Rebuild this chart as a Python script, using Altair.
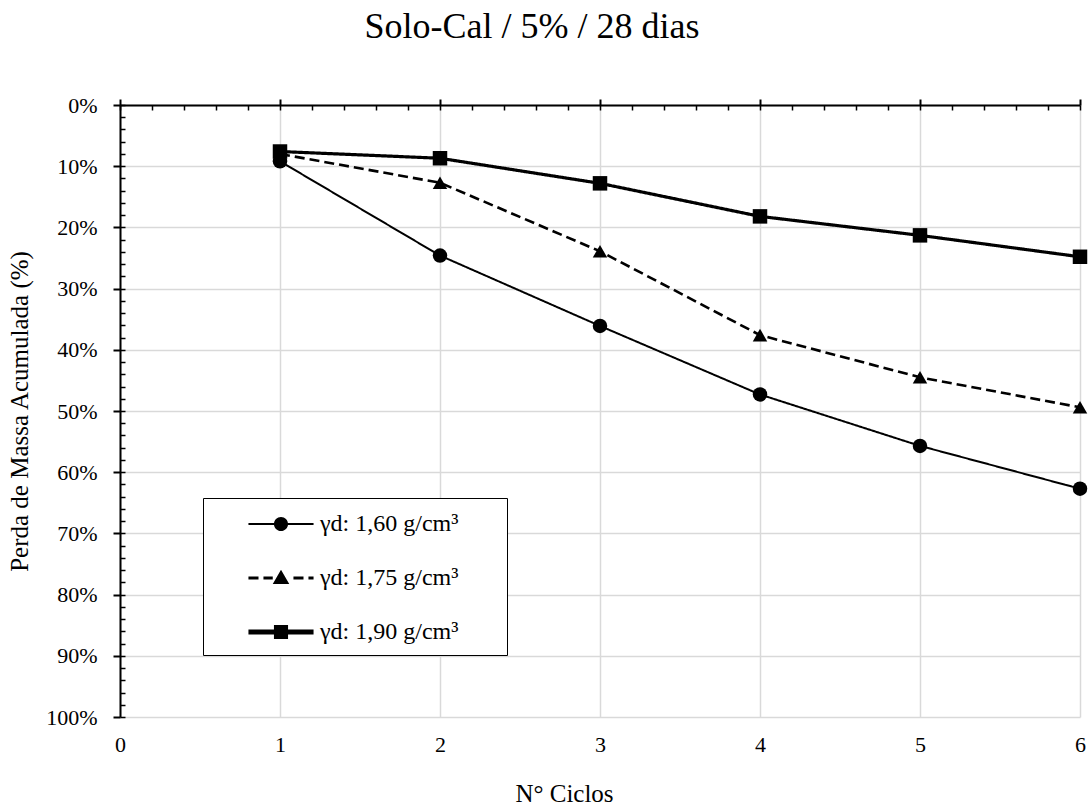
import altair as alt
import pandas as pd

# Ensaio de durabilidade: perda de massa acumulada por ciclo
ciclos = [1, 2, 3, 4, 5, 6]
serie_160 = [9.2, 24.6, 36.1, 47.3, 55.7, 62.7]
serie_175 = [8.0, 12.7, 23.9, 37.6, 44.5, 49.4]
serie_190 = [7.6, 8.7, 12.8, 18.2, 21.3, 24.8]
nomes = ["γd: 1,60 g/cm³", "γd: 1,75 g/cm³", "γd: 1,90 g/cm³"]

linhas = []
for nome, valores in zip(nomes, [serie_160, serie_175, serie_190]):
    for c, v in zip(ciclos, valores):
        linhas.append({"ciclo": c, "perda": v, "serie": nome})
df = pd.DataFrame(linhas)

FONT = "Liberation Serif, Times New Roman, serif"
W, H = 960, 612

x_scale = alt.Scale(domain=[0, 6], nice=False, zero=False)
y_scale = alt.Scale(domain=[0, 100], reverse=True, nice=False, zero=False)

larguras = [2, 3.2, 5]
tracos = [[1, 0], [10, 5], [1, 0]]

base = alt.Chart(df)

# main lines with the bottom labels and the left axis
lines = base.mark_line(color="black").encode(
    x=alt.X("ciclo:Q", scale=x_scale, title="N° Ciclos",
            axis=alt.Axis(orient="bottom", values=[0, 1, 2, 3, 4, 5, 6], format="d",
                          domain=False, ticks=False, tickSize=0, labelPadding=17,
                          labelFlush=False,
                          labelFont=FONT, labelFontSize=22, labelColor="black",
                          grid=True, gridColor="#d9d9d9", gridWidth=1.5,
                          titleFont=FONT, titleFontSize=25, titleFontWeight="normal",
                          titleColor="black", titleX=444, titleY=84,
                          titleBaseline="alphabetic", titleAlign="center")),
    y=alt.Y("perda:Q", scale=y_scale, title="Perda de Massa Acumulada (%)",
            axis=alt.Axis(orient="left", values=list(range(0, 101, 10)),
                          labelExpr="datum.value + '%'", labelFlush=False,
                          domain=True, domainColor="black", domainWidth=2,
                          ticks=True, tickColor="black", tickWidth=2, tickSize=7,
                          labelPadding=16, labelFont=FONT, labelFontSize=22,
                          labelColor="black",
                          grid=True, gridColor="#d9d9d9", gridWidth=1.5,
                          titleFont=FONT, titleFontSize=25, titleFontWeight="normal",
                          titleColor="black", titleAngle=270, titleX=-93, titleY=306,
                          titleBaseline="alphabetic", titleAlign="center")),
    detail="serie:N",
    strokeWidth=alt.StrokeWidth("serie:N", scale=alt.Scale(domain=nomes, range=larguras),
                                legend=None),
    strokeDash=alt.StrokeDash("serie:N", scale=alt.Scale(domain=nomes, range=tracos),
                              legend=None),
)

points = base.mark_point(filled=True, color="black", opacity=1).encode(
    x=alt.X("ciclo:Q", scale=x_scale, axis=None),
    y=alt.Y("perda:Q", scale=y_scale, axis=None),
    shape=alt.Shape("serie:N", scale=alt.Scale(domain=nomes,
                                               range=["circle", "triangle-up", "square"]),
                    legend=None),
    size=alt.value(210),
)


# legend symbols (1 unit = 15 px): line pieces drawn as thin filled bars
# on both sides of the marker; the final move-to widens the legend box
def barra(x0, x1, meia):
    return f"M{x0},{-meia}H{x1}V{meia}H{x0}Z"


fim = "M14.3,0"
circ = "M-0.47,0A0.47,0.47,0,1,1,0.47,0A0.47,0.47,0,1,1,-0.47,0Z"
tri = "M0,-0.55L0.55,0.4L-0.55,0.4Z"
sq = "M-0.47,-0.47H0.47V0.47H-0.47Z"

fino = barra(-2.17, -0.45, 0.067) + barra(0.45, 2.17, 0.067)
tracejado = "".join(barra(a, b, 0.107) for a, b in
                    [(-2.17, -1.5), (-1.17, -0.55), (0.83, 1.5), (1.83, 2.17)])
grosso = barra(-2.17, -0.45, 0.167) + barra(0.45, 2.17, 0.167)
simbolos = [fino + circ + fim, tracejado + tri + fim, grosso + sq + fim]

legenda = alt.Legend(
    title=None, orient="none", legendX=83, legendY=393,
    padding=11, rowPadding=27, symbolSize=900,
    symbolOffset=52, labelOffset=24, labelLimit=500,
    labelFont=FONT, labelFontSize=24, labelColor="black",
    strokeColor="black", fillColor="white",
    symbolOpacity=1, symbolFillColor="black", symbolStrokeColor="black",
    symbolStrokeWidth=0,
)

legend_layer = base.mark_point(filled=True, color="black", opacity=0).encode(
    x=alt.X("ciclo:Q", scale=x_scale, axis=None),
    y=alt.Y("perda:Q", scale=y_scale, axis=None),
    shape=alt.Shape("serie:N", scale=alt.Scale(domain=nomes, range=simbolos),
                    legend=legenda),
)

# top axis line with crossing major ticks
top_axis = base.mark_point(opacity=0).encode(
    x=alt.X("ciclo:Q", scale=x_scale,
            axis=alt.Axis(orient="top", values=[0, 1, 2, 3, 4, 5, 6], labels=False,
                          grid=False, domain=True, domainColor="black", domainWidth=2,
                          ticks=True, tickColor="black", tickWidth=2, tickSize=6,
                          title=None)),
    y=alt.Y("perda:Q", scale=y_scale, axis=None),
)

# inward minor ticks along the top edge
top_minor = base.mark_point(opacity=0).encode(
    x=alt.X("ciclo:Q", scale=x_scale,
            axis=alt.Axis(orient="bottom", offset=-H,
                          values=[round(i * 0.2, 1) for i in range(31)],
                          labels=False, grid=False, domain=False,
                          ticks=True, tickColor="black", tickWidth=1.5, tickSize=5,
                          title=None)),
    y=alt.Y("perda:Q", scale=y_scale, axis=None),
)

# inward minor ticks along the left edge
left_minor = base.mark_point(opacity=0).encode(
    x=alt.X("ciclo:Q", scale=x_scale, axis=None),
    y=alt.Y("perda:Q", scale=y_scale,
            axis=alt.Axis(orient="right", offset=-W, values=list(range(0, 101, 2)),
                          labels=False, grid=False, domain=False,
                          ticks=True, tickColor="black", tickWidth=1.5, tickSize=5,
                          title=None)),
)

chart = alt.layer(
    lines, points, legend_layer, top_axis, top_minor, left_minor
).resolve_axis(
    x="independent", y="independent"
).resolve_scale(
    shape="independent"
).properties(
    width=W, height=H,
    title=alt.TitleParams("Solo-Cal / 5% / 28 dias", font=FONT, fontSize=36,
                          fontWeight="normal", color="black", anchor="middle",
                          frame="group", dx=-68, offset=20, baseline="alphabetic"),
    autosize=alt.AutoSizeParams(type="none"),
    padding={"left": 120, "top": 105, "right": 9, "bottom": 88},
    background="white",
).configure_view(stroke=None)

chart.save("out.html", embed_options={"renderer": "svg", "actions": False})
